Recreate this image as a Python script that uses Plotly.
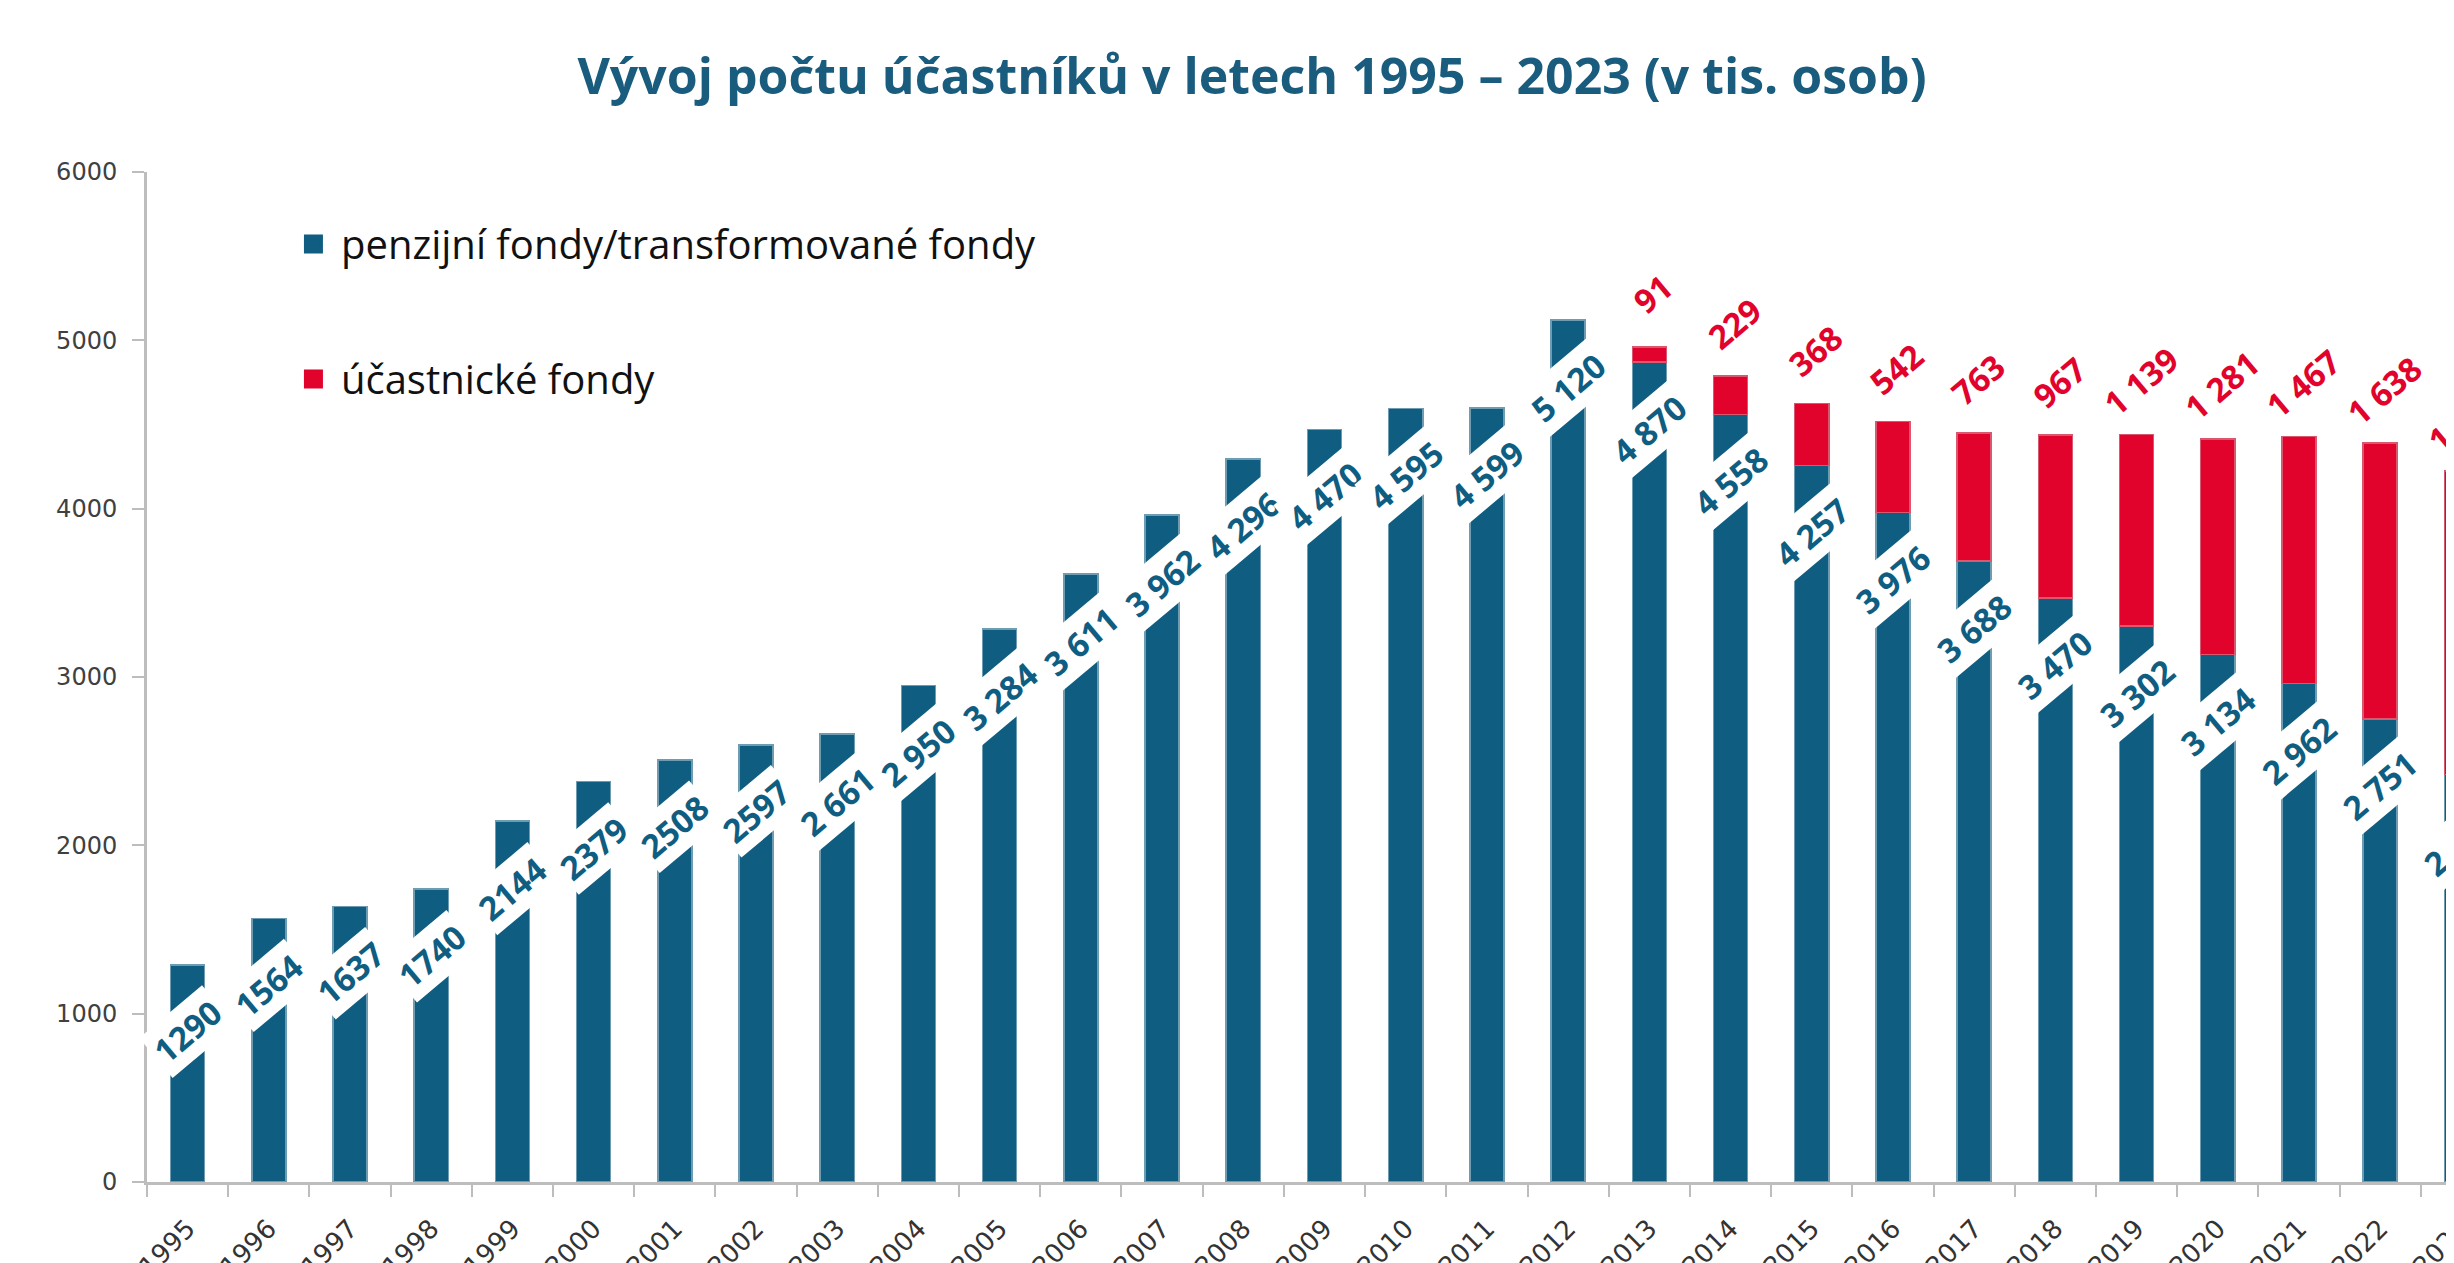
import plotly.graph_objects as go

years = [str(y) for y in range(1995, 2024)]
penzijni = [1290, 1564, 1637, 1740, 2144, 2379, 2508, 2597, 2661, 2950, 3284, 3611, 3962,
            4296, 4470, 4595, 4599, 5120, 4870, 4558, 4257, 3976, 3688, 3470, 3302, 3134,
            2962, 2751, 2420]
penzijni_labels = ["1290", "1564", "1637", "1740", "2144", "2379", "2508", "2597", "2 661",
                   "2 950", "3 284", "3 611", "3 962", "4 296", "4 470", "4 595", "4 599",
                   "5 120", "4 870", "4 558", "4 257", "3 976", "3 688", "3 470", "3 302",
                   "3 134", "2 962", "2 751", "2 420"]
ucastnicke_years = [str(y) for y in range(2013, 2024)]
ucastnicke = [91, 229, 368, 542, 763, 967, 1139, 1281, 1467, 1638, 1805]
ucastnicke_labels = ["91", "229", "368", "542", "763", "967", "1 139", "1 281", "1 467",
                     "1 638", "1 805"]
y_ticks = [0, 1000, 2000, 3000, 4000, 5000, 6000]

BLUE = "#0F5E82"
RED = "#E2032D"
TITLE = "Vývoj počtu účastníků v letech 1995 – 2023 (v tis. osob)"
NAME_B = "penzijní fondy/transformované fondy"
NAME_R = "účastnické fondy"

fig = go.Figure()
fig.add_trace(go.Bar(x=years, y=penzijni, marker=dict(color=BLUE, line=dict(color="#6E9CB2", width=1.5)),
                     showlegend=False, name=NAME_B))
fig.add_trace(go.Bar(x=ucastnicke_years, y=ucastnicke,
                     marker=dict(color=RED, line=dict(color="#D9576F", width=1.5)),
                     showlegend=False, name=NAME_R))
# legend entries
fig.add_trace(go.Scatter(x=[None], y=[None], mode="markers", name=NAME_B, legendgroup="a",
                         marker=dict(symbol="square", size=16, color=BLUE, line=dict(color=BLUE, width=3))))
fig.add_trace(go.Scatter(x=[None], y=[None], mode="markers", name=NAME_R, legendgroup="b",
                         marker=dict(symbol="square", size=16, color=RED, line=dict(color=RED, width=3))))

annotations = []
idx = {yr: i for i, yr in enumerate(years)}
for yr, v, lab in zip(years, penzijni, penzijni_labels):
    annotations.append(dict(x=idx[yr], y=v, xref="x", yref="y", text=lab, showarrow=False,
                            textangle=-40, xanchor="center", yanchor="middle", yshift=-67,
                            bgcolor="white", borderpad=3,
                            font=dict(family="Open Sans", size=33, color=BLUE, weight=700)))
base = dict(zip(years, penzijni))
for yr, v, lab in zip(ucastnicke_years, ucastnicke, ucastnicke_labels):
    annotations.append(dict(x=idx[yr], y=base[yr] + v, xref="x", yref="y", text=lab,
                            showarrow=False, textangle=-40,
                            xanchor="center", yanchor="middle", yshift=53, xshift=4,
                            font=dict(family="Open Sans", size=33, color=RED, weight=700)))

W = 2494
fig.update_layout(
    width=W, height=1263,
    margin=dict(l=139, r=0, t=164, b=89, pad=0),
    paper_bgcolor="white", plot_bgcolor="white",
    barmode="stack", bargap=0.58,
    title=dict(text=TITLE, x=1244 / W, xanchor="center", y=1 - 68 / 1263, yanchor="middle",
               yref="container",
               font=dict(family="Open Sans", size=50, color="#1A5C7E", weight="bold")),
    showlegend=True,
    legend=dict(x=0.059, y=0.961, xanchor="left", yanchor="top", bgcolor="rgba(0,0,0,0)",
                tracegroupgap=80, traceorder="grouped", itemwidth=45,
                font=dict(family="Open Sans", size=40, color="#111111")),
    annotations=annotations,
)
fig.update_xaxes(type="category", range=[-0.5, 28.5], showgrid=False, automargin=False,
                 showline=True, linecolor="#BDBDBD", linewidth=3,
                 ticks="outside", tickson="boundaries", ticklen=12, tickwidth=2, tickcolor="#BDBDBD",
                 tickangle=-45, ticklabelstandoff=18,
                 tickfont=dict(family="DejaVu Sans", size=26, color="#333333"))
fig.update_yaxes(range=[0, 6000], tickvals=y_ticks, showgrid=False, zeroline=False, automargin=False,
                 showline=True, linecolor="#BDBDBD", linewidth=3,
                 ticks="outside", ticklen=12, tickwidth=2, tickcolor="#BDBDBD",
                 ticklabelstandoff=10,
                 tickfont=dict(family="DejaVu Sans", size=24, color="#404040"))

fig.write_html("out.html")
